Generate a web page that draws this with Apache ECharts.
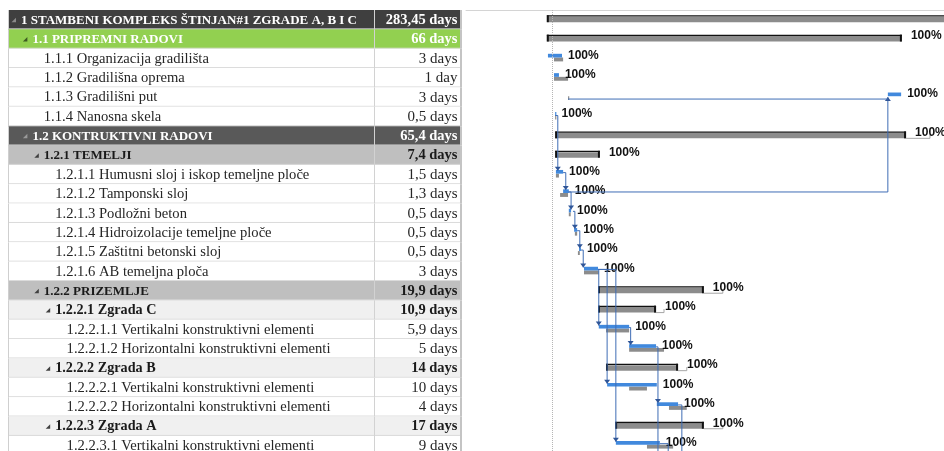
<!DOCTYPE html>
<html>
<head>
<meta charset="utf-8">
<title>Gantt - Stambeni kompleks Štinjan</title>
<script src="https://cdn.jsdelivr.net/npm/echarts@6.0.0/dist/echarts.min.js"></script>
<style>
  html, body { margin: 0; padding: 0; background: #fff; }
  #chart { width: 944px; height: 451px; }
</style>
</head>
<body>
<div id="chart"></div>
<script>
// task table
const taskNames = [
  '1 STAMBENI KOMPLEKS ŠTINJAN#1 ZGRADE A, B I C',
  '1.1 PRIPREMNI RADOVI',
  '1.1.1 Organizacija gradilišta',
  '1.1.2 Gradilišna oprema',
  '1.1.3 Gradilišni put',
  '1.1.4 Nanosna skela',
  '1.2 KONTRUKTIVNI RADOVI',
  '1.2.1 TEMELJI',
  '1.2.1.1 Humusni sloj i iskop temeljne ploče',
  '1.2.1.2 Tamponski sloj',
  '1.2.1.3 Podložni beton',
  '1.2.1.4 Hidroizolacije temeljne ploče',
  '1.2.1.5 Zaštitni betonski sloj',
  '1.2.1.6 AB temeljna ploča',
  '1.2.2 PRIZEMLJE',
  '1.2.2.1 Zgrada C',
  '1.2.2.1.1 Vertikalni konstruktivni elementi',
  '1.2.2.1.2 Horizontalni konstruktivni elementi',
  '1.2.2.2 Zgrada B',
  '1.2.2.2.1 Vertikalni konstruktivni elementi',
  '1.2.2.2.2 Horizontalni konstruktivni elementi',
  '1.2.2.3 Zgrada A',
  '1.2.2.3.1 Vertikalni konstruktivni elementi'
]
const durations = [
  '283,45 days', '66 days', '3 days', '1 day', '3 days', '0,5 days',
  '65,4 days', '7,4 days', '1,5 days', '1,3 days', '0,5 days', '0,5 days',
  '0,5 days', '3 days', '19,9 days', '10,9 days', '5,9 days', '5 days',
  '14 days', '10 days', '4 days', '17 days', '9 days'
]
const levels = [0, 1, 2, 2, 2, 2, 1, 2, 3, 3, 3, 3, 3, 3, 2, 3, 4, 4, 3, 4, 4, 3, 4]
const rowKinds = [
  'top', 'green', 'task', 'task', 'task', 'task',
  'dark', 'gray', 'task', 'task', 'task', 'task', 'task', 'task',
  'gray', 'light', 'task', 'task', 'light', 'task', 'task', 'light', 'task'
]

// gantt values, days from project start (summary rows: bar + baseline tail)
const actStart = [0.3, 0.3, 0.6, 2.2, 90.2, 2.5, 2.5, 2.5, 2.7, 4.6, 6.1, 7.5, 8.8, 10.1, 13.8, 13.8, 14.0, 22.0, 15.9, 16.2, 29.3, 18.3, 18.5]
const actEnd   = [110, 93.9, 4.3, 3.5, 93.7, 2.6, 95.0, 14.3, 4.6, 6.1, 6.7, 8.3, 9.3, 13.8, 41.7, 29.1, 22.0, 29.1, 34.9, 29.3, 34.9, 41.7, 30.1]
const baseStart = [0.3, 0.3, 2.2, 2.2, 5.9, 2.5, 2.5, 2.5, 2.7, 3.8, 6.1, 7.7, 8.5, 10.1, 13.8, 13.8, 15.9, 22.0, 15.9, 22.0, 32.5, 18.3, 26.7]
const baseEnd   = [110, 93.9, 4.6, 5.9, 6.1, 2.8, 101.3, 14.3, 3.5, 5.9, 6.6, 8.3, 9.0, 14.0, 46.7, 31.2, 22.0, 31.2, 37.2, 26.7, 37.2, 46.7, 33.6]
const complete = [100, 100, 100, 100, 100, 100, 100, 100, 100, 100, 100, 100, 100, 100, 100, 100, 100, 100, 100, 100, 100, 100, 100]
const statusDay = 1.75

// dependency lines: points as [day, row position]
const linkPaths = [
  [[2.5, 5.45], [3.2, 5.45], [3.2, 8.3]],
  [[4.6, 8.4], [5.3, 8.4], [5.3, 9.3]],
  [[6.1, 9.4], [6.7, 9.4], [6.7, 10.3]],
  [[7.2, 10.4], [7.7, 10.4], [7.7, 11.3]],
  [[8.3, 11.4], [9.0, 11.4], [9.0, 12.3]],
  [[9.3, 12.4], [9.9, 12.4], [9.9, 13.3]],
  [[13.8, 13.4], [14.0, 13.4], [14.0, 16.3]],
  [[13.8, 13.4], [16.2, 13.4], [16.2, 19.3]],
  [[13.8, 13.4], [18.5, 13.4], [18.5, 22.3]],
  [[22.0, 16.4], [22.4, 16.4], [22.4, 17.3]],
  [[29.1, 17.4], [29.6, 17.4], [29.6, 20.3]],
  [[29.6, 20.3], [29.6, 24]],
  [[34.9, 20.4], [35.9, 20.4], [35.9, 24]],
  [[30.1, 22.4], [32.3, 22.4], [32.3, 24]],
  [[5.9, 9.4], [90.2, 9.4], [90.2, 4.5]],
  [[5.9, 4.6], [90.2, 4.6]]
]
const linkArrows = [true, true, true, true, true, true, true, true, true, true, true, false, false, false, true, false]

const rowStyles = {
  top:   { bg: '#3f3f3f', color: '#ffffff', bold: true, tri: '#8a8a8a' },
  green: { bg: '#92d050', color: '#ffffff', bold: true, tri: '#3d5a22' },
  dark:  { bg: '#595959', color: '#ffffff', bold: true, tri: '#9a9a9a' },
  gray:  { bg: '#bfbfbf', color: '#1a1a1a', bold: true, tri: '#404040' },
  light: { bg: '#f0f0f0', color: '#1a1a1a', bold: true, tri: '#404040' },
  task:  { bg: '#ffffff', color: '#262626', bold: false, tri: null }
}
const nameColFrac = 0.81
const serif = '"Liberation Serif", "DejaVu Serif", serif'
const rowPx = 19.36
const gridTop = 10
const gridHeight = 441
const visibleRows = gridHeight / rowPx

const chart = echarts.init(document.getElementById('chart'))

// table rows
const renderRow = (params, api) => {
  const i = api.value(2)
  const p0 = api.coord([0, i])
  const p1 = api.coord([1, i + 1])
  const left = p0[0], top = p0[1], right = p1[0], bottom = p1[1]
  const split = Math.round(api.coord([nameColFrac, i])[0])
  const st = rowStyles[rowKinds[i]]
  const yc = (top + bottom) / 2
  const tx = left + 13 + levels[i] * 11.4
  let nameFont, durFont
  if (st.bold) {
    const caps = taskNames[i] === taskNames[i].toUpperCase()
    nameFont = 'bold ' + (caps ? 13 : 14.2) + 'px ' + serif
    durFont = 'bold 14.5px ' + serif
  } else {
    nameFont = '14.6px ' + serif
    durFont = '15px ' + serif
  }
  const children = [
    { type: 'rect', shape: { x: left, y: top, width: right - left, height: bottom - top }, style: { fill: st.bg } },
    { type: 'line', shape: { x1: left, y1: bottom - 0.5, x2: right, y2: bottom - 0.5 }, style: { stroke: '#dadada', lineWidth: 1 } },
    { type: 'line', shape: { x1: split + 0.5, y1: top, x2: split + 0.5, y2: bottom }, style: { stroke: '#d2d2d2', lineWidth: 1 } },
    { type: 'line', shape: { x1: left + 0.5, y1: top, x2: left + 0.5, y2: bottom }, style: { stroke: '#cfcfcf', lineWidth: 1 } },
    { type: 'rect', shape: { x: right, y: top, width: 2, height: bottom - top }, style: { fill: '#c4c4c4' } },
    { type: 'text', style: { text: taskNames[i], x: tx, y: yc + 0.5, fill: st.color, font: nameFont, align: 'left', verticalAlign: 'middle' } },
    { type: 'text', style: { text: durations[i], x: right - 2.5, y: yc + 0.5, fill: st.color, font: durFont, align: 'right', verticalAlign: 'middle' } }
  ]
  if (st.tri) {
    const ax = tx - 5, ay = yc + 2.5
    children.push({ type: 'polygon', shape: { points: [[ax, ay], [ax - 4.5, ay], [ax, ay - 4.5]] }, style: { fill: st.tri } })
  }
  return { type: 'group', children }
}

// gantt bars
const renderBar = (params, api) => {
  const i = api.value(5)
  const yc = api.coord([0, i + 0.5])[1]
  const X = v => api.coord([v, i + 0.5])[0]
  const xs = X(actStart[i]), xe = X(actEnd[i])
  const bs = X(baseStart[i]), be = X(baseEnd[i])
  const label = complete[i] + '%'
  const labelFont = 'bold 12px "Liberation Sans", Arial, sans-serif'
  const children = []
  if (rowKinds[i] !== 'task') {
    if (be > xe + 1) {
      children.push({ type: 'polyline', shape: { points: [[xe, yc + 2.5], [be, yc + 2.5], [be, yc - 1]] }, style: { stroke: '#a6a6a6', fill: null, lineWidth: 1 } })
    }
    children.push({ type: 'rect', shape: { x: xs, y: yc - 3, width: xe - xs, height: 5.5 }, style: { fill: '#8c8c8c' } })
    children.push({ type: 'rect', shape: { x: xs, y: yc - 4.4, width: xe - xs, height: 1.3 }, style: { fill: '#111' } })
    children.push({ type: 'rect', shape: { x: xs, y: yc - 4.4, width: 2, height: 6.9 }, style: { fill: '#111' } })
    children.push({ type: 'rect', shape: { x: xe - 2, y: yc - 4.4, width: 2, height: 6.9 }, style: { fill: '#111' } })
    children.push({ type: 'text', style: { text: label, x: xe + 9, y: yc - 3, fill: '#111', font: labelFont, align: 'left', verticalAlign: 'middle' } })
  } else {
    children.push({ type: 'rect', shape: { x: bs, y: yc - 0.9, width: Math.max(be - bs, 1.2), height: 3.9 }, style: { fill: '#8c8c8c' } })
    children.push({ type: 'rect', shape: { x: xs, y: yc - 4.6, width: Math.max(xe - xs, 1.2), height: 3.7 }, style: { fill: '#4189dd' } })
    children.push({ type: 'text', style: { text: label, x: xe + 6, y: yc - 3, fill: '#111', font: labelFont, align: 'left', verticalAlign: 'middle' } })
  }
  return { type: 'group', children }
}

// dependency arrows
const renderLink = (params, api) => {
  const k = api.value(2)
  const pts = linkPaths[k].map(p => api.coord(p))
  const children = [
    { type: 'polyline', shape: { points: pts }, style: { stroke: '#3f6db5', fill: null, lineWidth: 1 } }
  ]
  if (linkArrows[k]) {
    const a = pts[pts.length - 1]
    const b = pts[pts.length - 2]
    const dir = a[1] >= b[1] ? 1 : -1
    children.push({ type: 'polygon', shape: { points: [[a[0] - 3, a[1] - 4 * dir], [a[0] + 3, a[1] - 4 * dir], [a[0], a[1]]] }, style: { fill: '#2f5597' } })
  }
  return { type: 'group', children }
}

const option = {
  animation: false,
  grid: [
    { left: 8, top: gridTop, width: 452, height: gridHeight },
    { left: 466, top: gridTop, width: 478, height: gridHeight }
  ],
  xAxis: [
    { gridIndex: 0, type: 'value', min: 0, max: 1, show: false },
    {
      gridIndex: 1, type: 'value', min: -21, max: 105, position: 'top',
      axisLine: { show: true, lineStyle: { color: '#d4d4d4', width: 1 } },
      axisTick: { show: false }, axisLabel: { show: false }, splitLine: { show: false }
    }
  ],
  yAxis: [
    { gridIndex: 0, type: 'value', min: 0, max: visibleRows, inverse: true, show: false },
    { gridIndex: 1, type: 'value', min: 0, max: visibleRows, inverse: true, show: false }
  ],
  series: [
    {
      type: 'custom',
      xAxisIndex: 0, yAxisIndex: 0,
      renderItem: renderRow,
      encode: { x: 0, y: 1 },
      data: taskNames.map((n, i) => [0, i + 0.5, i])
    },
    {
      type: 'custom',
      xAxisIndex: 1, yAxisIndex: 1,
      renderItem: renderBar,
      encode: { x: [0, 2], y: 1 },
      data: taskNames.map((n, i) => [actStart[i], i + 0.5, actEnd[i], baseStart[i], baseEnd[i], i]),
      z: 2
    },
    {
      type: 'custom',
      xAxisIndex: 1, yAxisIndex: 1,
      renderItem: renderLink,
      encode: { x: 0, y: 1 },
      data: linkPaths.map((p, k) => [p[0][0], p[0][1], k]),
      z: 3,
      markLine: {
        silent: true,
        symbol: 'none',
        label: { show: false },
        lineStyle: { type: 'dotted', color: '#b5b5b5', width: 1 },
        data: [{ xAxis: statusDay }]
      }
    }
  ]
}

chart.setOption(option)
</script>
</body>
</html>
